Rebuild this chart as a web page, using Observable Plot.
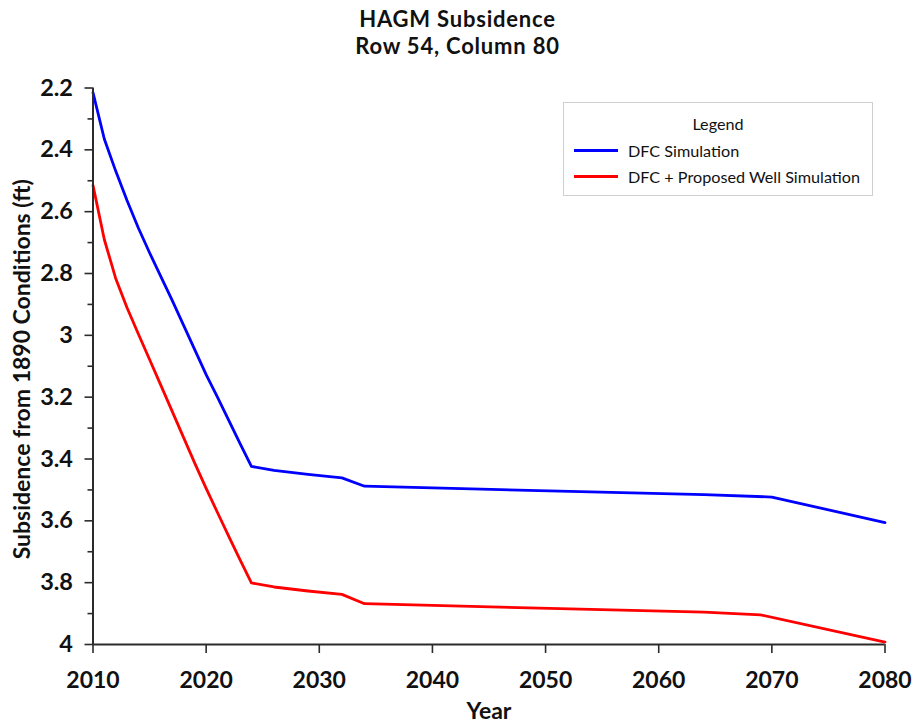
<!DOCTYPE html>
<html>
<head>
<meta charset="utf-8">
<script src="https://cdn.jsdelivr.net/npm/d3@7"></script>
<script src="https://cdn.jsdelivr.net/npm/@observablehq/plot@0.6"></script>
<style>
  html, body { margin: 0; padding: 0; background: #fff; }
  #wrap { position: relative; width: 915px; height: 725px; font-family: Lato, "Open Sans", sans-serif; }
  .title { position: absolute; left: 0; width: 915px; text-align: center; font-weight: bold; font-size: 22px; letter-spacing: 0.8px; line-height: 26px; height: 26px; color: #111; }
  #legend { position: absolute; left: 563px; top: 102px; width: 308px; height: 92px; border: 1px solid #cfcfcf; background: #fff; font-size: 16.2px; color: #111; }
  #legend .head { position: absolute; left: 0; width: 100%; top: 11px; text-align: center; }
  #legend .row { position: absolute; left: 10px; height: 20px; display: flex; align-items: center; }
  #legend .sw { width: 44px; height: 3px; margin-right: 10px; }
</style>
</head>
<body>
<div id="wrap">
  <div id="chart"></div>
  <div class="title" style="top: 6px;">HAGM Subsidence</div>
  <div class="title" style="top: 33px;">Row 54, Column 80</div>
  <div id="legend"></div>
</div>
<script>
// Simulated subsidence (ft, relative to 1890) at model cell row 54, column 80
const seriesNames = ["DFC Simulation", "DFC + Proposed Well Simulation"];
const seriesColors = ["#0000ff", "#ff0000"];

const dfcYears = [2010, 2011, 2012, 2013, 2014, 2015, 2016, 2017, 2018, 2019, 2020, 2021, 2022, 2023, 2024, 2026, 2029, 2032, 2034, 2046, 2064, 2070, 2080];
const dfcValues = [2.215, 2.365, 2.468, 2.563, 2.652, 2.733, 2.81, 2.887, 2.967, 3.047, 3.127, 3.2, 3.275, 3.35, 3.424, 3.437, 3.45, 3.461, 3.488, 3.499, 3.515, 3.523, 3.606];

const wellYears = [2010, 2011, 2012, 2013, 2014, 2015, 2016, 2017, 2018, 2019, 2020, 2021, 2022, 2023, 2024, 2026, 2029, 2032, 2034, 2046, 2064, 2069, 2080];
const wellValues = [2.515, 2.69, 2.815, 2.91, 2.995, 3.078, 3.162, 3.246, 3.33, 3.414, 3.495, 3.573, 3.65, 3.726, 3.801, 3.814, 3.827, 3.838, 3.868, 3.879, 3.895, 3.904, 3.992];

const yMajorTicks = [2.2, 2.4, 2.6, 2.8, 3, 3.2, 3.4, 3.6, 3.8, 4];
const yMinorTicks = [2.3, 2.5, 2.7, 2.9, 3.1, 3.3, 3.5, 3.7, 3.9];
const xTicks = [2010, 2020, 2030, 2040, 2050, 2060, 2070, 2080];

const xTitle = "Year";
const yTitle = "Subsidence from 1890 Conditions (ft)";

const rows = [
  ...dfcYears.map((year, i) => ({year, value: dfcValues[i], series: seriesNames[0]})),
  ...wellYears.map((year, i) => ({year, value: wellValues[i], series: seriesNames[1]}))
];

const axisColor = "#2b2b2b";
const textColor = "#111";

const chart = Plot.plot({
  width: 915,
  height: 725,
  marginLeft: 92.5,
  marginRight: 30.5,
  marginTop: 87.5,
  marginBottom: 81,
  style: {fontFamily: "Lato, 'Open Sans', sans-serif", color: textColor, background: "#fff"},
  x: {domain: [2010, 2080]},
  y: {domain: [2.2, 4], reverse: true},
  color: {domain: seriesNames, range: seriesColors},
  marks: [
    Plot.line(rows, {x: "year", y: "value", z: "series", stroke: "series", strokeWidth: 2.8}),
    Plot.axisY(yMinorTicks, {tickSize: 5, text: null, stroke: axisColor, strokeWidth: 1.6, label: null}),
    Plot.axisY(yMajorTicks, {
      tickSize: 8, tickPadding: 12, stroke: axisColor, strokeWidth: 1.6,
      tickFormat: d => String(+d.toFixed(1)),
      fontSize: 23.5, fontWeight: "bold", label: null
    }),
    Plot.axisX(xTicks, {
      tickSize: 9, tickPadding: 18, stroke: axisColor, strokeWidth: 1.6,
      tickFormat: d => String(d),
      fontSize: 23, fontWeight: "bold", label: null
    }),
    // axis titles
    Plot.text([yTitle], {
      frameAnchor: "left", dx: -70.5, dy: 3, rotate: -90, text: d => d,
      textAnchor: "middle", lineAnchor: "middle",
      fontSize: 23, fontWeight: "bold", fill: textColor
    }),
    Plot.text([xTitle], {
      frameAnchor: "bottom", dy: 67, text: d => d,
      textAnchor: "middle", lineAnchor: "middle",
      fontSize: 23, fontWeight: "bold", fill: textColor
    }),
    Plot.ruleX([2010], {stroke: axisColor, strokeWidth: 2}),
    Plot.ruleY([4], {stroke: axisColor, strokeWidth: 2})
  ]
});
document.getElementById("chart").appendChild(chart);

// Legend box
const legend = document.getElementById("legend");
const head = document.createElement("div");
head.className = "head";
head.textContent = "Legend";
legend.appendChild(head);
seriesNames.forEach((name, i) => {
  const row = document.createElement("div");
  row.className = "row";
  row.style.top = (37 + i * 26) + "px";
  const sw = document.createElement("div");
  sw.className = "sw";
  sw.style.background = seriesColors[i];
  const label = document.createElement("span");
  label.textContent = name;
  row.appendChild(sw);
  row.appendChild(label);
  legend.appendChild(row);
});
</script>
</body>
</html>
